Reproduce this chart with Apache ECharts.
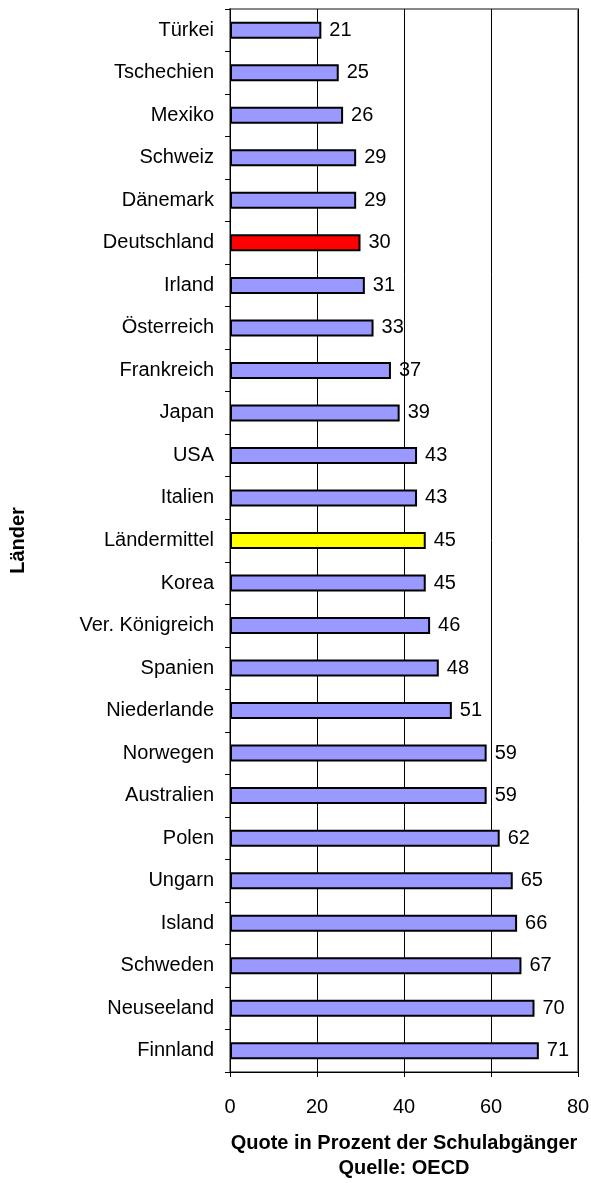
<!DOCTYPE html>
<html>
<head>
<meta charset="utf-8">
<script src="https://cdn.jsdelivr.net/npm/echarts@6/dist/echarts.min.js"></script>
<style>
  html, body { margin: 0; padding: 0; background: #fff; }
  #chart { width: 591px; height: 1183px; }
</style>
</head>
<body>
<div id="chart"></div>
<script>
// Daten (von oben nach unten)
var laender = ['Türkei', 'Tschechien', 'Mexiko', 'Schweiz', 'Dänemark', 'Deutschland', 'Irland',
  'Österreich', 'Frankreich', 'Japan', 'USA', 'Italien', 'Ländermittel', 'Korea', 'Ver. Königreich',
  'Spanien', 'Niederlande', 'Norwegen', 'Australien', 'Polen', 'Ungarn', 'Island', 'Schweden',
  'Neuseeland', 'Finnland'];
var quote = [21, 25, 26, 29, 29, 30, 31, 33, 37, 39, 43, 43, 45, 45, 46, 48, 51, 59, 59, 62, 65, 66, 67, 70, 71];
var xTicks = [0, 20, 40, 60, 80];

var farben = { 'Deutschland': '#FF0000', 'Ländermittel': '#FFFF00' };

var myChart = echarts.init(document.getElementById('chart'));

myChart.setOption({
  animation: false,
  textStyle: { fontFamily: 'Liberation Sans, Arial, sans-serif' },
  grid: {
    left: 230,
    right: 13,
    top: 9,
    bottom: 111,
    outerBoundsMode: 'none',
    containLabel: false,
    show: true,
    borderColor: '#888',
    borderWidth: 2,
    backgroundColor: '#fff'
  },
  xAxis: {
    type: 'value',
    min: xTicks[0],
    max: xTicks[xTicks.length - 1],
    interval: 20,
    name: 'Quote in Prozent der Schulabgänger\nQuelle: OECD',
    nameLocation: 'middle',
    nameGap: 59,
    nameTextStyle: { fontSize: 20, fontWeight: 'bold', color: '#000', lineHeight: 25 },
    axisLine: { show: true, lineStyle: { color: '#000', width: 1 } },
    axisTick: { show: true, length: 5, lineStyle: { color: '#000' } },
    axisLabel: { fontSize: 20, color: '#000', margin: 25 },
    splitLine: { show: true, lineStyle: { color: '#000', width: 1 } }
  },
  yAxis: {
    type: 'category',
    inverse: true,
    data: laender,
    name: 'Länder',
    nameLocation: 'middle',
    nameGap: 202,
    nameRotate: 90,
    nameTextStyle: { fontSize: 20, fontWeight: 'bold', color: '#000' },
    axisLine: { show: true, lineStyle: { color: '#000', width: 1 } },
    axisTick: { show: true, length: 5, lineStyle: { color: '#000' } },
    axisLabel: { fontSize: 20, color: '#000', margin: 16 }
  },
  series: [{
    type: 'bar',
    barWidth: 17,
    data: quote.map(function (v, i) {
      return {
        value: v,
        itemStyle: { color: farben[laender[i]] || '#9999FF' }
      };
    }),
    itemStyle: { borderColor: '#000', borderWidth: 2 },
    label: {
      show: true,
      position: 'right',
      distance: 8,
      fontSize: 20,
      color: '#000'
    }
  }]
});
</script>
</body>
</html>
